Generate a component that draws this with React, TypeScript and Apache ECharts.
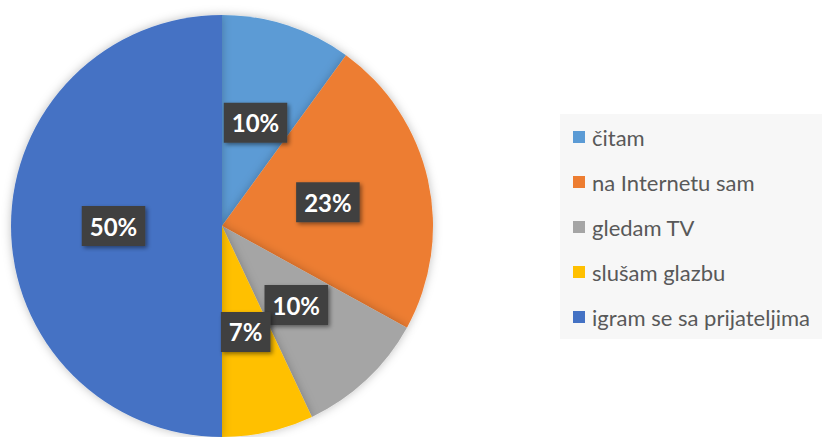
import React, { useEffect, useRef } from "react";
import * as echarts from "echarts";

const categories = ["čitam", "na Internetu sam", "gledam TV", "slušam glazbu", "igram se sa prijateljima"];
const values = [10, 23, 10, 7, 50];
const colors = ["#5B9BD5", "#ED7D31", "#A5A5A5", "#FFC000", "#4472C4"];

export default function App() {
  const ref = useRef<HTMLDivElement>(null);
  useEffect(() => {
    if (!ref.current) return;
    const chart = echarts.init(ref.current, undefined, { renderer: "svg" });
    chart.setOption({
      animation: false,
      backgroundColor: "#ffffff",
      color: colors,
      graphic: [
        {
          type: "rect",
          z: -10,
          shape: { x: 560, y: 114, width: 262, height: 225 },
          style: { fill: "#f7f7f7" },
          silent: true,
        },
      ],
      legend: {
        orient: "vertical",
        left: 573,
        top: 125,
        itemWidth: 12,
        itemHeight: 12,
        itemGap: 21,
        icon: "rect",
        padding: 0,
        textStyle: {
          color: "#595959",
          fontSize: 22,
          fontFamily: "Lato, 'Noto Sans', sans-serif",
          lineHeight: 24,
          padding: [0, 0, 0, 2],
        },
        data: categories,
      },
      series: [
        {
          type: "pie",
          center: [222, 226],
          radius: 211,
          startAngle: 90,
          clockwise: true,
          percentPrecision: 0,
          avoidLabelOverlap: false,
          itemStyle: {
            shadowBlur: 10,
            shadowColor: "rgba(0,0,0,0.25)",
          },
          label: {
            show: true,
            position: "inside",
            formatter: "{d}%",
            color: "#ffffff",
            fontWeight: "bold",
            fontSize: 24,
            fontFamily: "Lato, 'Noto Sans', sans-serif",
            backgroundColor: "#404040",
            padding: [9, 8, 7, 8],
            shadowBlur: 4,
            shadowOffsetX: 2,
            shadowOffsetY: 2,
            shadowColor: "rgba(0,0,0,0.45)",
          },
          labelLayout: { hideOverlap: false },
          labelLine: { show: false },
          emphasis: { disabled: true },
          data: categories.map((name, i) => ({ name, value: values[i] })),
        },
      ],
    });
    return () => chart.dispose();
  }, []);
  return (
    <div
      ref={ref}
      style={{ position: "fixed", left: 0, top: 0, width: 822, height: 437 }}
    />
  );
}
